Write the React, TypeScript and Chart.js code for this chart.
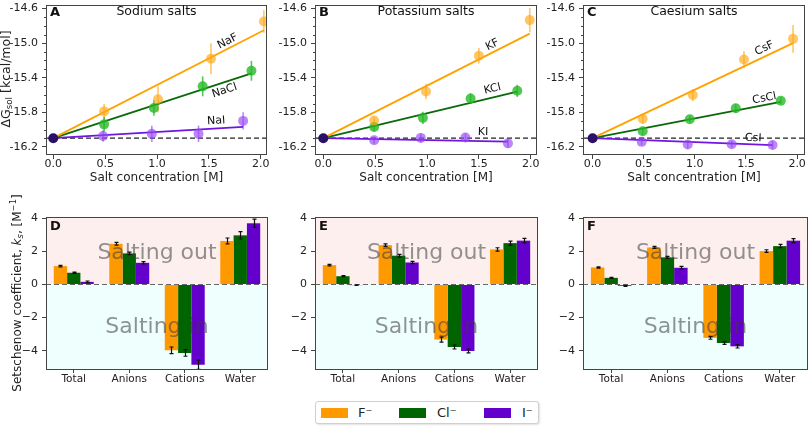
import React, { useEffect, useRef } from "react";
import { Chart, registerables } from "chart.js";
Chart.register(...registerables);

const FONT = "'DejaVu Sans', sans-serif";
Chart.defaults.font.family = FONT;
Chart.defaults.color = "#222";

// ---------------- data: solvation free energy vs salt concentration ----------------
const REF_DG = -16.1; // pure water value (shared origin point)

const NaF_conc = [0.49, 1.01, 1.52, 2.03];
const NaF_dG = [-15.79, -15.65, -15.18, -14.75];
const NaF_err = [0.085, 0.15, 0.18, 0.13];
const NaF_fitEnd = -14.85;

const NaCl_conc = [0.49, 0.97, 1.44, 1.91];
const NaCl_dG = [-15.94, -15.75, -15.5, -15.32];
const NaCl_err = [0.085, 0.09, 0.115, 0.115];
const NaCl_fitEnd = -15.35;

const NaI_conc = [0.48, 0.95, 1.4, 1.83];
const NaI_dG = [-16.074, -16.05, -16.05, -15.9];
const NaI_err = [0.067, 0.095, 0.095, 0.1];
const NaI_fitEnd = -15.97;

const KF_conc = [0.49, 0.99, 1.5, 1.99];
const KF_dG = [-15.895, -15.56, -15.145, -14.733];
const KF_err = [0.04, 0.09, 0.09, 0.14];
const KF_fitEnd = -14.89;

const KCl_conc = [0.49, 0.96, 1.42, 1.87];
const KCl_dG = [-15.97, -15.865, -15.64, -15.552];
const KCl_err = [0.05, 0.07, 0.06, 0.07];
const KCl_fitEnd = -15.56;

const KI_conc = [0.49, 0.94, 1.37, 1.78];
const KI_dG = [-16.124, -16.097, -16.093, -16.16];
const KI_err = [0.04, 0.05, 0.05, 0.05];
const KI_fitEnd = -16.14;

const CsF_conc = [0.49, 0.98, 1.48, 1.96];
const CsF_dG = [-15.876, -15.6, -15.19, -14.95];
const CsF_err = [0.06, 0.07, 0.1, 0.16];
const CsF_fitEnd = -15.0;

const CsCl_conc = [0.49, 0.95, 1.4, 1.84];
const CsCl_dG = [-16.02, -15.88, -15.754, -15.667];
const CsCl_err = [0.04, 0.04, 0.05, 0.04];
const CsCl_fitEnd = -15.68;

const CsI_conc = [0.48, 0.93, 1.36, 1.76];
const CsI_dG = [-16.143, -16.173, -16.17, -16.18];
const CsI_err = [0.04, 0.05, 0.04, 0.05];
const CsI_fitEnd = -16.18;

const topYTicks = [-16.2, -15.8, -15.4, -15.0, -14.6];
const topXTicks = [0, 0.5, 1.0, 1.5, 2.0];

// ---------------- data: Setschenow coefficients ----------------
const ksCategories = ["Total", "Anions", "Cations", "Water"];
const anionLabels = ["F\u207B", "Cl\u207B", "I\u207B"];

const Na_ks_F = [1.11, 2.46, -3.98, 2.63];
const Na_ks_Cl = [0.71, 1.88, -4.14, 2.97];
const Na_ks_I = [0.16, 1.31, -4.85, 3.7];
const Na_err_F = [0.05, 0.08, 0.2, 0.18];
const Na_err_Cl = [0.04, 0.08, 0.2, 0.22];
const Na_err_I = [0.05, 0.07, 0.28, 0.25];

const K_ks_F = [1.17, 2.38, -3.33, 2.12];
const K_ks_Cl = [0.5, 1.74, -3.78, 2.5];
const K_ks_I = [-0.04, 1.33, -4.02, 2.65];
const K_err_F = [0.04, 0.07, 0.15, 0.1];
const K_err_Cl = [0.03, 0.08, 0.12, 0.12];
const K_err_I = [0.02, 0.07, 0.12, 0.14];

const Cs_ks_F = [1.03, 2.24, -3.23, 2.02];
const Cs_ks_Cl = [0.4, 1.64, -3.54, 2.32];
const Cs_ks_I = [-0.08, 1.01, -3.74, 2.65];
const Cs_err_F = [0.04, 0.06, 0.08, 0.08];
const Cs_err_Cl = [0.03, 0.06, 0.08, 0.1];
const Cs_err_I = [0.03, 0.08, 0.1, 0.12];

const bottomYTicks = [-4, -2, 0, 2, 4];

// ---------------- styles ----------------
const C_OR_LINE = "#ffa200";
const C_OR_PT = "rgba(255,168,20,0.65)";
const C_GR_LINE = "#0a6a0a";
const C_GR_PT = "rgba(40,185,40,0.8)";
const C_PU_LINE = "#6f16e0";
const C_PU_PT = "rgba(150,70,245,0.65)";
const C_ORIGIN = "#2b1068";
const BAR_COLORS = ["#ff9900", "#006400", "#6400cc"];
const SPINE = "#444";

function fmtMinus(v: number) {
  return v < 0 ? "\u2212" + Math.abs(v) : String(v);
}

function makeTopPlugin(letter: string, title: string, salts: any[]) {
  return {
    id: "topDecor",
    beforeDatasetsDraw(chart: any) {
      const { ctx, chartArea: a, scales } = chart;
      const x = scales.x, y = scales.y;
      ctx.save();
      const yr = y.getPixelForValue(REF_DG);
      ctx.beginPath();
      ctx.setLineDash([5, 3]);
      ctx.strokeStyle = "#222";
      ctx.lineWidth = 1.2;
      ctx.moveTo(a.left, yr);
      ctx.lineTo(a.right, yr);
      ctx.stroke();
      ctx.setLineDash([]);
      chart.data.datasets.forEach((ds: any) => {
        if (!ds.errs) return;
        ctx.strokeStyle = ds.backgroundColor;
        ctx.lineWidth = 1.6;
        ds.data.forEach((p: any, i: number) => {
          const px = x.getPixelForValue(p.x);
          ctx.beginPath();
          ctx.moveTo(px, y.getPixelForValue(p.y - ds.errs[i]));
          ctx.lineTo(px, y.getPixelForValue(p.y + ds.errs[i]));
          ctx.stroke();
        });
      });
      ctx.restore();
    },
    afterDraw(chart: any) {
      const { ctx, chartArea: a, scales } = chart;
      const x = scales.x, y = scales.y;
      ctx.save();
      // spines
      ctx.strokeStyle = SPINE;
      ctx.lineWidth = 1;
      ctx.strokeRect(Math.round(a.left) + 0.5, Math.round(a.top) + 0.5, Math.round(a.right - a.left) - 1, Math.round(a.bottom - a.top) - 1);
      // minor y ticks
      ctx.beginPath();
      for (let k = 0; k <= 16; k++) {
        if (k % 4 === 0) continue;
        const v = -16.2 + k * 0.1;
        const py = Math.round(y.getPixelForValue(v)) + 0.5;
        ctx.moveTo(a.left - 2, py);
        ctx.lineTo(a.left, py);
      }
      ctx.stroke();
      // panel letter and title
      ctx.fillStyle = "#111";
      ctx.font = "bold 13px " + FONT;
      ctx.textAlign = "left";
      ctx.textBaseline = "alphabetic";
      ctx.fillText(letter, a.left + 4, a.top + 11);
      ctx.font = "12.5px " + FONT;
      ctx.textAlign = "center";
      ctx.fillText(title, (a.left + a.right) / 2, a.top + 10);
      // salt labels along fit lines
      ctx.font = "11px " + FONT;
      ctx.textBaseline = "middle";
      salts.forEach((s) => {
        const x0 = x.getPixelForValue(0), y0 = y.getPixelForValue(REF_DG);
        const x1 = x.getPixelForValue(s.conc[s.conc.length - 1]);
        const y1 = y.getPixelForValue(s.fitEnd);
        const ang = Math.atan2(y1 - y0, x1 - x0);
        ctx.save();
        ctx.translate(x.getPixelForValue(s.lx), y.getPixelForValue(s.ly));
        ctx.rotate(ang);
        ctx.fillText(s.name, 0, 0);
        ctx.restore();
      });
      ctx.restore();
    },
  };
}

function topConfig(letter: string, title: string, salts: any[], xMin: number, xMax: number, yW: number, padR: number) {
  const datasets: any[] = [];
  salts.forEach((s) => {
    datasets.push({
      label: s.name + " fit",
      data: [
        { x: 0, y: REF_DG },
        { x: s.conc[s.conc.length - 1], y: s.fitEnd },
      ],
      showLine: true,
      borderColor: s.line,
      borderWidth: 1.8,
      pointRadius: 0,
      order: 3,
    });
  });
  salts.forEach((s) => {
    datasets.push({
      label: s.name,
      data: s.conc.map((c: number, i: number) => ({ x: c, y: s.dG[i] })),
      errs: s.err,
      backgroundColor: s.pt,
      borderWidth: 0,
      pointRadius: 5,
      order: 2,
    });
  });
  datasets.push({
    label: "water",
    data: [{ x: 0, y: REF_DG }],
    backgroundColor: C_ORIGIN,
    borderWidth: 0,
    pointRadius: 5,
    order: 1,
  });
  return {
    type: "scatter",
    data: { datasets },
    options: {
      responsive: false,
      animation: false,
      devicePixelRatio: 1,
      events: [],
      layout: { padding: { left: 0, right: padR, top: 3, bottom: 0 } },
      plugins: { legend: { display: false }, tooltip: { enabled: false } },
      scales: {
        x: {
          type: "linear",
          min: xMin,
          max: xMax,
          afterBuildTicks: (s: any) => {
            s.ticks = topXTicks.map((v) => ({ value: v }));
          },
          afterFit: (s: any) => {
            s.height = 40;
            s.paddingLeft = 0;
            s.paddingRight = 0;
          },
          ticks: { callback: (v: any) => Number(v).toFixed(1), font: { size: 11 }, padding: -1, maxRotation: 0, autoSkip: false, color: "#222" },
          grid: { drawOnChartArea: false, tickLength: 4, tickColor: SPINE },
          border: { display: false },
          title: { display: true, text: "Salt concentration [M]", font: { size: 12 }, padding: { top: 0, bottom: 10 }, color: "#222" },
        },
        y: {
          type: "linear",
          min: -16.295,
          max: -14.558,
          afterBuildTicks: (s: any) => {
            s.ticks = topYTicks.map((v) => ({ value: v }));
          },
          afterFit: (s: any) => {
            s.width = yW;
            s.paddingTop = 0;
            s.paddingBottom = 0;
          },
          ticks: { callback: (v: any) => Number(v).toFixed(1), font: { size: 11 }, padding: 4, color: "#222" },
          grid: { drawOnChartArea: false, tickLength: 4, tickColor: SPINE },
          border: { display: false },
        },
      },
    },
    plugins: [makeTopPlugin(letter, title, salts)],
  };
}

function makeBarPlugin(letter: string) {
  return {
    id: "barDecor",
    beforeDatasetsDraw(chart: any) {
      const { ctx, chartArea: a, scales } = chart;
      const y = scales.y;
      const y0 = y.getPixelForValue(0);
      ctx.save();
      ctx.fillStyle = "#fdefee";
      ctx.fillRect(a.left, a.top, a.right - a.left, y0 - a.top);
      ctx.fillStyle = "#eefffd";
      ctx.fillRect(a.left, y0, a.right - a.left, a.bottom - y0);
      ctx.beginPath();
      ctx.setLineDash([5, 3]);
      ctx.strokeStyle = "#666";
      ctx.lineWidth = 1.2;
      ctx.moveTo(a.left, y0);
      ctx.lineTo(a.right, y0);
      ctx.stroke();
      ctx.restore();
    },
    afterDatasetsDraw(chart: any) {
      const { ctx, chartArea: a, scales } = chart;
      const y = scales.y;
      ctx.save();
      const cx = (a.left + a.right) / 2;
      ctx.font = "22px " + FONT;
      ctx.fillStyle = "rgba(60,60,60,0.55)";
      ctx.textAlign = "center";
      ctx.textBaseline = "alphabetic";
      ctx.fillText("Salting out", cx, y.getPixelForValue(1.57));
      ctx.fillText("Salting in", cx, y.getPixelForValue(-2.96));
      // error bars
      ctx.strokeStyle = "#111";
      ctx.lineWidth = 1.2;
      chart.data.datasets.forEach((ds: any, di: number) => {
        const meta = chart.getDatasetMeta(di);
        meta.data.forEach((el: any, i: number) => {
          const v = ds.data[i], e = ds.errs[i];
          const px = Math.round(el.x) + 0.5;
          const yt = y.getPixelForValue(v + e), yb = y.getPixelForValue(v - e);
          ctx.beginPath();
          ctx.moveTo(px, yt);
          ctx.lineTo(px, yb);
          ctx.moveTo(px - 2, yt);
          ctx.lineTo(px + 2, yt);
          ctx.moveTo(px - 2, yb);
          ctx.lineTo(px + 2, yb);
          ctx.stroke();
        });
      });
      ctx.restore();
    },
    afterDraw(chart: any) {
      const { ctx, chartArea: a } = chart;
      ctx.save();
      ctx.strokeStyle = SPINE;
      ctx.lineWidth = 1;
      ctx.strokeRect(Math.round(a.left) + 0.5, Math.round(a.top) + 0.5, Math.round(a.right - a.left) - 1, Math.round(a.bottom - a.top) - 1);
      ctx.fillStyle = "#111";
      ctx.font = "bold 13px " + FONT;
      ctx.textAlign = "left";
      ctx.textBaseline = "alphabetic";
      ctx.fillText(letter, a.left + 4, a.top + 13);
      ctx.restore();
    },
  };
}

function barConfig(letter: string, series: number[][], errs: number[][], yW: number, padR: number) {
  return {
    type: "bar",
    data: {
      labels: ksCategories,
      datasets: series.map((vals, k) => ({
        label: anionLabels[k],
        data: vals,
        errs: errs[k],
        backgroundColor: BAR_COLORS[k],
        borderWidth: 0,
        categoryPercentage: 0.72,
        barPercentage: 1,
      })),
    },
    options: {
      responsive: false,
      animation: false,
      devicePixelRatio: 1,
      events: [],
      layout: { padding: { left: 0, right: padR, top: 22, bottom: 0 } },
      plugins: { legend: { display: false }, tooltip: { enabled: false } },
      scales: {
        x: {
          afterFit: (s: any) => {
            s.height = 25;
            s.paddingLeft = 0;
            s.paddingRight = 0;
          },
          ticks: { font: { size: 10.5 }, padding: 0, maxRotation: 0, autoSkip: false, color: "#222" },
          grid: { offset: false, drawOnChartArea: false, tickLength: 3, tickColor: SPINE },
          border: { display: false },
        },
        y: {
          type: "linear",
          min: -5.17,
          max: 4.08,
          afterBuildTicks: (s: any) => {
            s.ticks = bottomYTicks.map((v) => ({ value: v }));
          },
          afterFit: (s: any) => {
            s.width = yW;
            s.paddingTop = 0;
            s.paddingBottom = 0;
          },
          ticks: { callback: (v: any) => fmtMinus(Number(v)), font: { size: 11 }, padding: 4, color: "#222" },
          grid: { drawOnChartArea: false, tickLength: 4, tickColor: SPINE },
          border: { display: false },
        },
      },
    },
    plugins: [makeBarPlugin(letter)],
  };
}

const sodium = [
  { name: "NaF", conc: NaF_conc, dG: NaF_dG, err: NaF_err, fitEnd: NaF_fitEnd, line: C_OR_LINE, pt: C_OR_PT, lx: 1.68, ly: -14.98 },
  { name: "NaCl", conc: NaCl_conc, dG: NaCl_dG, err: NaCl_err, fitEnd: NaCl_fitEnd, line: C_GR_LINE, pt: C_GR_PT, lx: 1.65, ly: -15.55 },
  { name: "NaI", conc: NaI_conc, dG: NaI_dG, err: NaI_err, fitEnd: NaI_fitEnd, line: C_PU_LINE, pt: C_PU_PT, lx: 1.57, ly: -15.9 },
];
const potassium = [
  { name: "KF", conc: KF_conc, dG: KF_dG, err: KF_err, fitEnd: KF_fitEnd, line: C_OR_LINE, pt: C_OR_PT, lx: 1.63, ly: -15.02 },
  { name: "KCl", conc: KCl_conc, dG: KCl_dG, err: KCl_err, fitEnd: KCl_fitEnd, line: C_GR_LINE, pt: C_GR_PT, lx: 1.63, ly: -15.53 },
  { name: "KI", conc: KI_conc, dG: KI_dG, err: KI_err, fitEnd: KI_fitEnd, line: C_PU_LINE, pt: C_PU_PT, lx: 1.54, ly: -16.03 },
];
const caesium = [
  { name: "CsF", conc: CsF_conc, dG: CsF_dG, err: CsF_err, fitEnd: CsF_fitEnd, line: C_OR_LINE, pt: C_OR_PT, lx: 1.68, ly: -15.06 },
  { name: "CsCl", conc: CsCl_conc, dG: CsCl_dG, err: CsCl_err, fitEnd: CsCl_fitEnd, line: C_GR_LINE, pt: C_GR_PT, lx: 1.68, ly: -15.64 },
  { name: "CsI", conc: CsI_conc, dG: CsI_dG, err: CsI_err, fitEnd: CsI_fitEnd, line: C_PU_LINE, pt: C_PU_PT, lx: 1.57, ly: -16.1 },
];

const panels = [
  { left: 0, top: 0, w: 272, h: 195 },
  { left: 272, top: 0, w: 270, h: 195 },
  { left: 542, top: 0, w: 268, h: 195 },
  { left: 0, top: 195, w: 272, h: 200 },
  { left: 272, top: 195, w: 270, h: 200 },
  { left: 542, top: 195, w: 268, h: 200 },
];

export default function App() {
  const r0 = useRef<HTMLCanvasElement>(null);
  const r1 = useRef<HTMLCanvasElement>(null);
  const r2 = useRef<HTMLCanvasElement>(null);
  const r3 = useRef<HTMLCanvasElement>(null);
  const r4 = useRef<HTMLCanvasElement>(null);
  const r5 = useRef<HTMLCanvasElement>(null);
  const refs = [r0, r1, r2, r3, r4, r5];

  useEffect(() => {
    const cfgs: any[] = [
      topConfig("A", "Sodium salts", sodium, -0.07, 2.06, 46, 4),
      topConfig("B", "Potassium salts", potassium, -0.08, 2.06, 43, 4),
      topConfig("C", "Caesium salts", caesium, -0.094, 2.077, 41, 2),
      barConfig("D", [Na_ks_F, Na_ks_Cl, Na_ks_I], [Na_err_F, Na_err_Cl, Na_err_I], 46, 4),
      barConfig("E", [K_ks_F, K_ks_Cl, K_ks_I], [K_err_F, K_err_Cl, K_err_I], 43, 4),
      barConfig("F", [Cs_ks_F, Cs_ks_Cl, Cs_ks_I], [Cs_err_F, Cs_err_Cl, Cs_err_I], 41, 2),
    ];
    const charts = cfgs.map((c, i) => new Chart(refs[i].current as HTMLCanvasElement, c));
    return () => charts.forEach((c) => c.destroy());
  }, []);

  const swatch = (color: string, left: number) => (
    <div style={{ position: "absolute", left, top: 6, width: 27, height: 10, background: color }} />
  );
  const ltext = (t: string, left: number) => (
    <div style={{ position: "absolute", left, top: 1, fontSize: 13, lineHeight: "20px", color: "#222" }}>{t}</div>
  );

  return (
    <div style={{ position: "absolute", left: 0, top: 0, width: 810, height: 427, background: "#fff", overflow: "hidden", fontFamily: FONT }}>
      {panels.map((p, i) => (
        <canvas key={i} ref={refs[i]} width={p.w} height={p.h} style={{ position: "absolute", left: p.left, top: p.top, width: p.w, height: p.h }} />
      ))}
      <div style={{ position: "absolute", left: 7, top: 79, transform: "translate(-50%,-50%) rotate(-90deg)", fontSize: 12.5, whiteSpace: "nowrap", color: "#222", lineHeight: "15px" }}>
        ΔG<sub style={{ fontSize: "0.7em", verticalAlign: "-2px" }}>sol</sub> [kcal/mol]
      </div>
      <div style={{ position: "absolute", left: 17, top: 293, transform: "translate(-50%,-50%) rotate(-90deg)", fontSize: 12, whiteSpace: "nowrap", color: "#222", lineHeight: "15px" }}>
        Setschenow coefficient, <i>k</i><sub style={{ fontSize: "0.7em", verticalAlign: "-2px" }}><i>s</i></sub>, [M<sup style={{ fontSize: "0.7em", verticalAlign: "5px" }}>−1</sup>]
      </div>
      <div style={{ position: "absolute", left: 315, top: 401, width: 222, height: 21, border: "1px solid #d0d0d0", borderRadius: 3, background: "#fff", boxShadow: "1px 1px 2px rgba(0,0,0,0.12)" }}>
        {swatch(BAR_COLORS[0], 5)}
        {ltext(anionLabels[0], 42)}
        {swatch(BAR_COLORS[1], 83)}
        {ltext(anionLabels[1], 121)}
        {swatch(BAR_COLORS[2], 168)}
        {ltext(anionLabels[2], 206)}
      </div>
    </div>
  );
}
